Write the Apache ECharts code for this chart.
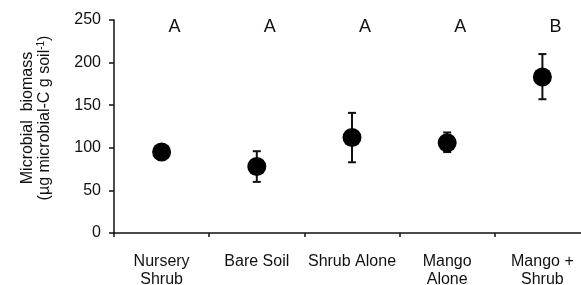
<!DOCTYPE html>
<html>
<head>
<meta charset="utf-8">
<script src="https://cdn.jsdelivr.net/npm/echarts@6/dist/echarts.min.js"></script>
<style>
  html, body { margin: 0; padding: 0; background: #fff; }
</style>
</head>
<body>
<div id="chart" style="width:581px;height:285px;"></div>
<script>
// treatments on the x axis
var categories = ['Nursery\nShrub', 'Bare Soil', 'Shrub Alone', 'Mango\nAlone', 'Mango +\nShrub'];
// mean microbial biomass and error bar ends
var means = [95, 78, 112, 106, 183];
var lows = [91, 60, 83, 95, 157];
var highs = [99, 96, 141, 118, 210];
// significance letters above each treatment
var letters = ['A', 'A', 'A', 'A', 'B'];
var letterLevel = 242;
var yTicks = [0, 50, 100, 150, 200, 250];

var font = '"Liberation Sans", Arial, sans-serif';
var ink = '#111';

var errData = categories.map(function (c, i) { return [i, lows[i], highs[i]]; });
var letterData = letters.map(function (l, i) { return [i, letterLevel]; });

var myChart = echarts.init(document.getElementById('chart'));
myChart.setOption({
  animation: false,
  grid: { left: 114, right: -9, top: 20, bottom: 52, containLabel: false, outerBoundsMode: 'none' },
  xAxis: {
    type: 'category',
    data: categories,
    boundaryGap: true,
    axisLine: { lineStyle: { color: ink, width: 1.5 } },
    axisTick: { show: true, length: 4, lineStyle: { color: ink, width: 1.5 } },
    axisLabel: { color: ink, fontFamily: font, fontSize: 16, lineHeight: 18, margin: 20, interval: 0 },
    splitLine: { show: false }
  },
  yAxis: {
    type: 'value',
    min: yTicks[0],
    max: yTicks[yTicks.length - 1],
    interval: 50,
    axisLine: { show: true, lineStyle: { color: ink, width: 1.5 } },
    axisTick: { show: true, length: 5, lineStyle: { color: ink, width: 1.5 } },
    axisLabel: { color: ink, fontFamily: font, fontSize: 16, margin: 13 },
    splitLine: { show: false }
  },
  graphic: [{
    type: 'text',
    x: 36,
    y: 118,
    rotation: Math.PI / 2,
    style: {
      text: 'Microbial  biomass\n(µg microbial-C g soil{sup|-1})',
      font: '16px ' + font,
      fill: ink,
      align: 'center',
      verticalAlign: 'middle',
      lineHeight: 17,
      rich: {
        sup: { fontSize: 10, fontFamily: font, fill: ink, verticalAlign: 'top', lineHeight: 17 }
      }
    }
  }],
  series: [
    {
      type: 'custom',
      data: errData,
      z: 2,
      renderItem: function (params, api) {
        var x = api.value(0);
        var lo = api.coord([x, api.value(1)]);
        var hi = api.coord([x, api.value(2)]);
        var cap = 4;
        var st = { stroke: ink, lineWidth: 2 };
        return {
          type: 'group',
          children: [
            { type: 'line', shape: { x1: lo[0], y1: lo[1], x2: hi[0], y2: hi[1] }, style: st },
            { type: 'line', shape: { x1: lo[0] - cap, y1: lo[1], x2: lo[0] + cap, y2: lo[1] }, style: st },
            { type: 'line', shape: { x1: hi[0] - cap, y1: hi[1], x2: hi[0] + cap, y2: hi[1] }, style: st }
          ]
        };
      }
    },
    {
      type: 'scatter',
      data: means,
      symbol: 'circle',
      symbolSize: 19,
      itemStyle: { color: '#000', opacity: 1 },
      z: 3
    },
    {
      type: 'custom',
      data: letterData,
      renderItem: function (params, api) {
        var p = api.coord([api.value(0), api.value(1)]);
        return {
          type: 'text',
          x: p[0] + 13,
          y: p[1],
          style: {
            text: letters[params.dataIndex],
            font: '18px ' + font,
            fill: ink,
            align: 'center',
            verticalAlign: 'middle'
          }
        };
      }
    }
  ]
});
</script>
</body>
</html>
